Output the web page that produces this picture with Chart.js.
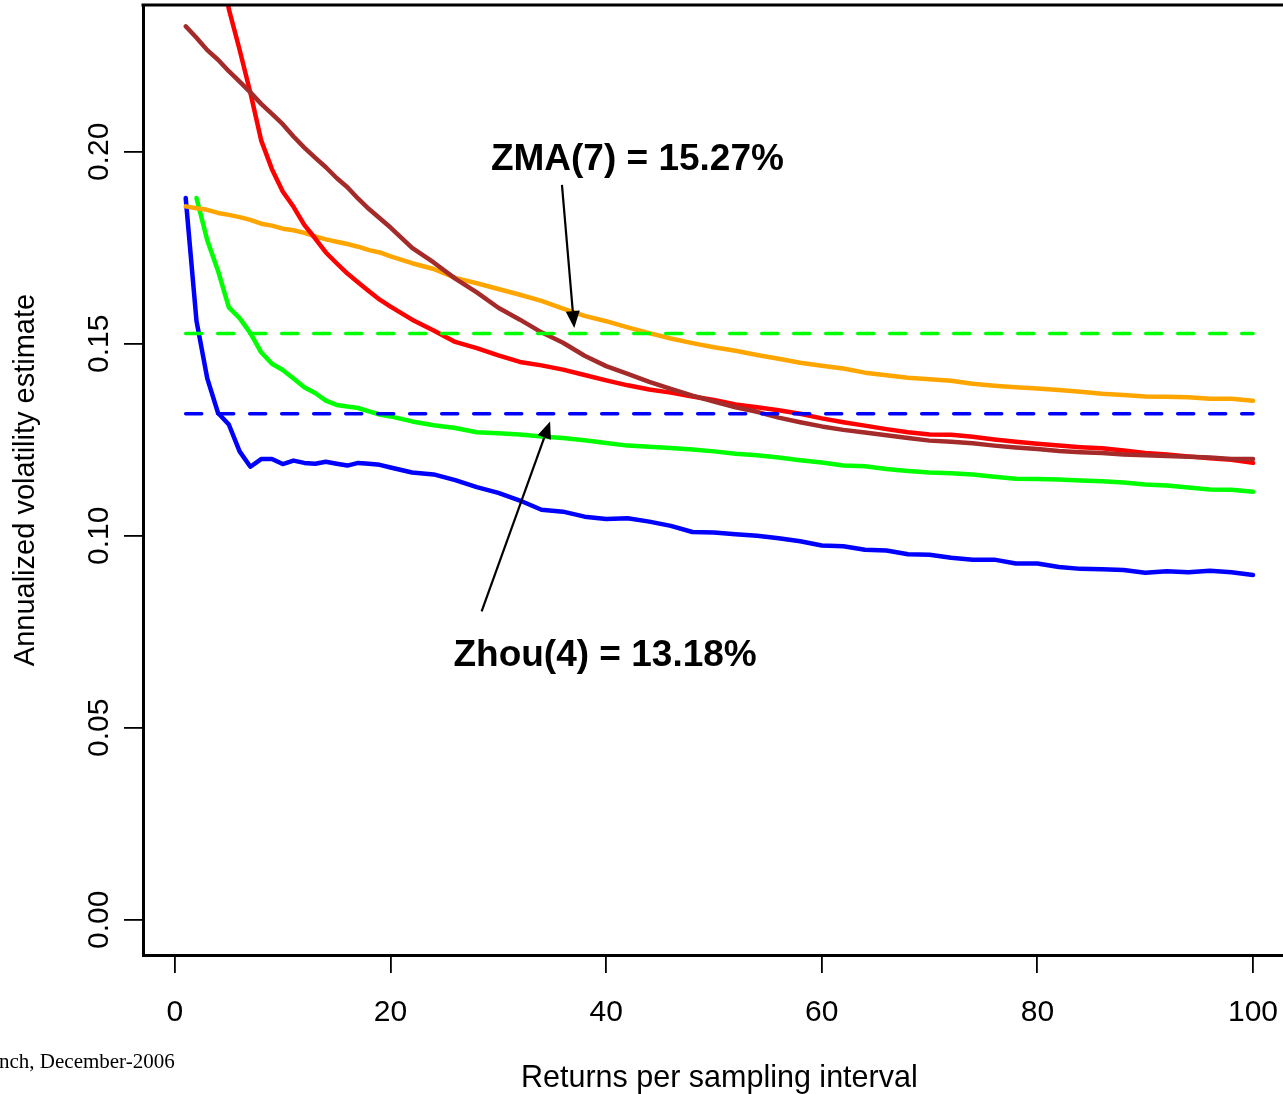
<!DOCTYPE html>
<html>
<head>
<meta charset="utf-8">
<script src="https://cdn.jsdelivr.net/npm/chart.js@4.4.1/dist/chart.umd.min.js"></script>
<style>
html, body { margin: 0; padding: 0; background: #fff; overflow: hidden; }
#wrap { position: relative; width: 1310px; height: 1094px; }
</style>
</head>
<body>
<div id="wrap"><canvas id="volChart"></canvas></div>
<script>
// returns per sampling interval (x values)
const intervals = [1,2,3,4,5,6,7,8,9,10,11,12,13,14,15,16,17,18,19,20,
  22,24,26,28,30,32,34,36,38,40,42,44,46,48,50,52,54,56,58,60,
  62,64,66,68,70,72,74,76,78,80,82,84,86,88,90,92,94,96,98,100]

const blueVals = [0.188,0.156,0.141,0.132,0.129,0.122,0.118,0.120,0.120,0.1187,0.1196,0.1190,0.1188,0.1193,0.1188,0.1183,0.1190,0.1188,0.1185,0.1178,
  0.1165,0.1160,0.1145,0.1127,0.1112,0.1092,0.1068,0.1063,0.1050,0.1044,0.1046,0.1037,0.1026,0.1010,0.1009,0.1004,0.1000,0.0994,0.0986,0.0975,
  0.0973,0.0964,0.0962,0.0952,0.0951,0.0943,0.0938,0.0938,0.0928,0.0928,0.0919,0.0914,0.0913,0.0911,0.0904,0.0908,0.0905,0.0909,0.0905,0.0898]

const greenVals = [null,0.188,0.177,0.169,0.1595,0.1567,0.1528,0.1478,0.1448,0.1432,0.1410,0.1387,0.1372,0.1352,0.1341,0.1337,0.1333,0.1324,0.1316,0.1311,
  0.1298,0.1288,0.1281,0.1270,0.1267,0.1264,0.1259,0.1255,0.1249,0.1242,0.1235,0.1232,0.1229,0.1225,0.1220,0.1214,0.1210,0.1204,0.1197,0.1191,
  0.1183,0.1181,0.1174,0.1169,0.1165,0.1163,0.1160,0.1154,0.1149,0.1148,0.1147,0.1144,0.1142,0.1139,0.1134,0.1131,0.1126,0.1121,0.1120,0.1115]

const orangeVals = [0.1858,0.1853,0.1849,0.1841,0.1836,0.1830,0.1823,0.1813,0.1808,0.1800,0.1796,0.1789,0.1780,0.1772,0.1766,0.1760,0.1753,0.1744,0.1738,0.1728,
  0.1710,0.1695,0.1672,0.1658,0.1643,0.1628,0.1612,0.1592,0.1573,0.1559,0.1543,0.1528,0.1514,0.1502,0.1491,0.1482,0.1471,0.1461,0.1451,0.1443,
  0.1436,0.1425,0.1418,0.1412,0.1408,0.1404,0.1396,0.1391,0.1387,0.1384,0.1380,0.1375,0.1370,0.1367,0.1363,0.1362,0.1361,0.1357,0.1357,0.1352]

const redVals = [0.360,0.310,0.280,0.255,0.2372,0.2266,0.2154,0.2030,0.1955,0.1897,0.1857,0.1810,0.1775,0.1738,0.1710,0.1683,0.1660,0.1637,0.1615,0.1597,
  0.1563,0.1535,0.1505,0.1489,0.1470,0.1453,0.1444,0.1433,0.1419,0.1405,0.1392,0.1381,0.1373,0.1363,0.1354,0.1342,0.1335,0.1327,0.1318,0.1306,
  0.1296,0.1287,0.1278,0.1270,0.1264,0.1263,0.1258,0.1251,0.1245,0.1240,0.1235,0.1231,0.1228,0.1222,0.1216,0.1212,0.1207,0.1202,0.1198,0.1190]

const brownVals = [0.2327,0.2297,0.2265,0.2240,0.2210,0.2183,0.2155,0.2125,0.2099,0.2072,0.2040,0.2011,0.1985,0.1960,0.1932,0.1908,0.1878,0.1851,0.1827,0.1803,
  0.1750,0.1712,0.1670,0.1634,0.1594,0.1563,0.1530,0.1503,0.1469,0.1442,0.1422,0.1401,0.1383,0.1365,0.1350,0.1335,0.1323,0.1308,0.1296,0.1285,
  0.1276,0.1269,0.1262,0.1255,0.1248,0.1245,0.1241,0.1235,0.1230,0.1226,0.1221,0.1218,0.1216,0.1212,0.1210,0.1208,0.1206,0.1204,0.1200,0.1200]

// horizontal reference levels
const refX = [1, 100]
const zmaLevel = 0.1527
const zhouLevel = 0.1318

const xTicks = [0, 20, 40, 60, 80, 100]
const yTicks = [0, 0.05, 0.10, 0.15, 0.20]
const yTickLabels = ['0.00', '0.05', '0.10', '0.15', '0.20']

// text labels + arrows, in data units
const notes = [
  { text: 'ZMA(7) = 15.27%', x: 42.9, y: 0.1979, from: [35.9, 0.1914], to: [37.04, 0.1541] },
  { text: 'Zhou(4) = 13.18%', x: 39.9, y: 0.0688, from: [28.45, 0.0803], to: [34.8, 0.1298] }
]

const toPoints = (xs, ys) => xs.map((x, i) => ({ x: x, y: ys[i] }))

const solid = (vals, color, order) => ({
  data: toPoints(intervals, vals),
  borderColor: color,
  borderWidth: 4.5,
  borderCapStyle: 'round',
  borderJoinStyle: 'round',
  pointRadius: 0,
  tension: 0,
  clip: 0,
  order: order
})

const dashed = (level, color) => ({
  data: toPoints(refX, [level, level]),
  borderColor: color,
  borderWidth: 3.5,
  borderDash: [16, 16],
  borderCapStyle: 'round',
  pointRadius: 0,
  clip: 0,
  order: 0
})

const SANS = '"Liberation Sans", Arial, Helvetica, sans-serif'

// frame top line, rotated y labels, titles, annotations
const extras = {
  id: 'extras',
  afterDraw(chart) {
    const ctx = chart.ctx
    const area = chart.chartArea
    const xs = chart.scales.x
    const ys = chart.scales.y
    ctx.save()
    ctx.strokeStyle = '#000'
    ctx.lineWidth = 3
    ctx.beginPath()
    ctx.moveTo(area.left - 1.5, area.top)
    ctx.lineTo(area.right, area.top)
    ctx.stroke()

    ctx.fillStyle = '#000'
    ctx.font = '30px ' + SANS
    ctx.textAlign = 'center'
    ctx.textBaseline = 'alphabetic'
    yTicks.forEach((v, i) => {
      ctx.save()
      ctx.translate(108, ys.getPixelForValue(v))
      ctx.rotate(-Math.PI / 2)
      ctx.fillText(yTickLabels[i], 0, 0)
      ctx.restore()
    })

    ctx.font = '29px ' + SANS
    ctx.save()
    ctx.translate(34, (area.top + area.bottom) / 2)
    ctx.rotate(-Math.PI / 2)
    ctx.fillText('Annualized volatility estimate', 0, 0)
    ctx.restore()

    ctx.font = '30.5px ' + SANS
    ctx.fillText('Returns per sampling interval', (area.left + area.right) / 2, 1087)

    ctx.textAlign = 'left'
    ctx.font = '21px "Liberation Serif", "Times New Roman", serif'
    ctx.fillText('nch, December-2006', -1, 1068)

    notes.forEach(n => {
      ctx.font = 'bold 37px ' + SANS
      ctx.textAlign = 'center'
      ctx.textBaseline = 'middle'
      ctx.fillText(n.text, xs.getPixelForValue(n.x), ys.getPixelForValue(n.y))
      const x0 = xs.getPixelForValue(n.from[0]), y0 = ys.getPixelForValue(n.from[1])
      const x1 = xs.getPixelForValue(n.to[0]), y1 = ys.getPixelForValue(n.to[1])
      const ang = Math.atan2(y1 - y0, x1 - x0)
      const headLen = 17, headW = 7
      const bx = x1 - headLen * Math.cos(ang), by = y1 - headLen * Math.sin(ang)
      ctx.lineWidth = 2.2
      ctx.beginPath()
      ctx.moveTo(x0, y0)
      ctx.lineTo(bx, by)
      ctx.stroke()
      ctx.beginPath()
      ctx.moveTo(x1, y1)
      ctx.lineTo(bx + headW * Math.sin(ang), by - headW * Math.cos(ang))
      ctx.lineTo(bx - headW * Math.sin(ang), by + headW * Math.cos(ang))
      ctx.closePath()
      ctx.fill()
    })
    ctx.restore()
  }
}

const volCanvas = document.getElementById('volChart')
const volChart = new Chart(volCanvas, {
  type: 'line',
  data: {
    datasets: [
      dashed(zmaLevel, '#00FF00'),
      dashed(zhouLevel, '#0000FF'),
      solid(brownVals, '#A52A2A', 1),
      solid(redVals, '#FF0000', 2),
      solid(orangeVals, '#FFA500', 3),
      solid(greenVals, '#00FF00', 4),
      solid(blueVals, '#0000FF', 5)
    ]
  },
  options: {
    responsive: true,
    maintainAspectRatio: false,
    animation: false,
    devicePixelRatio: 1,
    layout: { padding: { top: 5, right: 14.3, left: 0, bottom: 0 } },
    plugins: { legend: { display: false }, tooltip: { enabled: false } },
    scales: {
      x: {
        type: 'linear',
        min: -2.96,
        max: 103.96,
        afterBuildTicks: s => { s.ticks = xTicks.map(v => ({ value: v })) },
        afterFit: s => { s.height = 139 },
        grid: { display: true, drawOnChartArea: false, drawTicks: true, tickLength: 18, color: '#000', lineWidth: 1.8 },
        border: { display: true, color: '#000', width: 3 },
        ticks: { color: '#000', font: { family: SANS, size: 30 }, padding: 22, maxRotation: 0, minRotation: 0 }
      },
      y: {
        type: 'linear',
        min: -0.00916,
        max: 0.23825,
        afterBuildTicks: s => { s.ticks = yTicks.map(v => ({ value: v })) },
        afterFit: s => { s.width = 143 },
        grid: { display: true, drawOnChartArea: false, drawTicks: true, tickLength: 19, color: '#000', lineWidth: 1.8 },
        border: { display: true, color: '#000', width: 3 },
        ticks: { display: false }
      }
    }
  },
  plugins: [extras]
})
</script>
</body>
</html>
